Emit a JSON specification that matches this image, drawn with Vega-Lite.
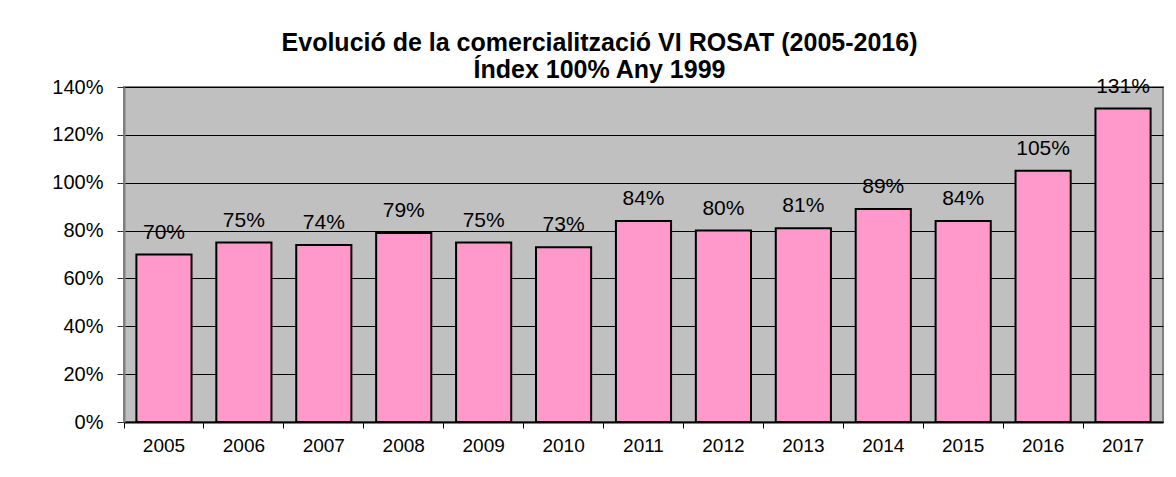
{
  "$schema": "https://vega.github.io/schema/vega-lite/v6.json",
  "width": 1039,
  "height": 335,
  "autosize": "none",
  "padding": {"left": 124, "top": 87, "right": 13, "bottom": 55},
  "background": "white",
  "title": {
    "text": ["Evolució de la comercialització VI ROSAT (2005-2016)", "Índex 100%  Any 1999"],
    "font": "Liberation Sans",
    "fontSize": 25,
    "fontWeight": "bold",
    "color": "black",
    "lineHeight": 27,
    "anchor": "middle",
    "dx": -44,
    "dy": 9,
    "offset": 2
  },
  "config": {
    "view": {"fill": "#C0C0C0", "stroke": "#808080", "strokeWidth": 2},
    "font": "Liberation Sans"
  },
  "data": {
    "values": [
      {"year": "2005", "value": 0.70},
      {"year": "2006", "value": 0.75},
      {"year": "2007", "value": 0.74},
      {"year": "2008", "value": 0.79},
      {"year": "2009", "value": 0.75},
      {"year": "2010", "value": 0.73},
      {"year": "2011", "value": 0.84},
      {"year": "2012", "value": 0.80},
      {"year": "2013", "value": 0.81},
      {"year": "2014", "value": 0.89},
      {"year": "2015", "value": 0.84},
      {"year": "2016", "value": 1.05},
      {"year": "2017", "value": 1.31}
    ]
  },
  "encoding": {
    "x": {
      "field": "year",
      "type": "ordinal",
      "scale": {"paddingInner": 0, "paddingOuter": 0},
      "axis": {
        "title": null,
        "labelAngle": 0,
        "labelFont": "Liberation Sans",
        "labelFontSize": 19,
        "labelColor": "black",
        "labelPadding": 8,
        "tickSize": 6,
        "tickColor": "black",
        "tickWidth": 1,
        "bandPosition": 0,
        "domainColor": "black",
        "domainWidth": 2,
        "grid": false
      }
    },
    "y": {
      "field": "value",
      "type": "quantitative",
      "scale": {"domain": [0, 1.4], "nice": false},
      "axis": {
        "title": null,
        "values": [0, 0.2, 0.4, 0.6, 0.8, 1.0, 1.2, 1.4],
        "format": ".0%",
        "labelFont": "Liberation Sans",
        "labelFontSize": 20,
        "labelColor": "black",
        "labelPadding": 14,
        "tickSize": 7,
        "tickColor": "#333333",
        "domainColor": "#808080",
        "domainWidth": 2,
        "grid": true,
        "gridColor": "black",
        "gridWidth": 1,
        "gridOpacity": 1
      }
    }
  },
  "layer": [
    {
      "mark": {"type": "bar", "width": {"band": 0.69}, "fill": "#FF99CC", "stroke": "black", "strokeWidth": 2}
    },
    {
      "mark": {"type": "text", "baseline": "alphabetic", "dy": -16, "fontSize": 21, "font": "Liberation Sans", "color": "black"},
      "encoding": {"text": {"field": "value", "type": "quantitative", "format": ".0%"}}
    }
  ]
}
